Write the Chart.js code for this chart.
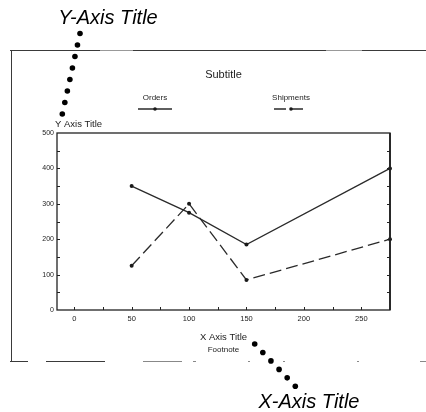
<!DOCTYPE html>
<html>
<head>
<meta charset="utf-8">
<script src="https://cdn.jsdelivr.net/npm/chart.js@4.4.1/dist/chart.umd.min.js"></script>
<style>
  html, body { margin: 0; padding: 0; background: #fff; overflow: hidden; }
  canvas { display: block; }
</style>
</head>
<body>
<canvas id="c" width="426" height="412"></canvas>
<script>
// Series data
const xValues   = [50, 100, 150, 275];
const orders    = [350, 275, 185, 400];
const shipments = [125, 300, 85, 200];

// Axis ticks
const xLabelTicks = [0, 50, 100, 150, 200, 250];
const xMinorTicks = [0, 25, 50, 75, 100, 125, 150, 175, 200, 225, 250];
const yLabelTicks = [0, 100, 200, 300, 400, 500];
const yMinorTicks = [50, 100, 150, 200, 250, 300, 350, 400, 450];

// Texts
const subtitleText = 'Subtitle';
const yAxisTitle = 'Y Axis Title';
const xAxisTitle = 'X Axis Title';
const footnoteText = 'Footnote';
const yCallout = 'Y-Axis Title';
const xCallout = 'X-Axis Title';

const FONT = '"Liberation Sans", Arial, Helvetica, sans-serif';
const INK = '#1c1c1c';

const toPoints = (vals) => xValues.map((x, i) => ({ x, y: vals[i] }));

function dotsBetween(ctx, x0, y0, x1, y1, n, r) {
  for (let i = 0; i < n; i++) {
    const t = i / (n - 1);
    ctx.beginPath();
    ctx.arc(x0 + (x1 - x0) * t, y0 + (y1 - y0) * t, r, 0, Math.PI * 2);
    ctx.fill();
  }
}

function hline(ctx, y, segs) {
  segs.forEach(([a, b]) => { ctx.beginPath(); ctx.moveTo(a, y); ctx.lineTo(b, y); ctx.stroke(); });
}

const decor = {
  id: 'decor',
  beforeDraw(chart) {
    const ctx = chart.ctx;
    ctx.save();
    ctx.fillStyle = '#fff';
    ctx.fillRect(0, 0, chart.width, chart.height);
    // outer page frame
    ctx.strokeStyle = '#3a3a3a';
    ctx.lineWidth = 1;
    hline(ctx, 50.5, [[10, 100], [133, 326], [362, 426]]);
    ctx.strokeStyle = '#999';
    hline(ctx, 50.5, [[100, 133], [326, 362]]);
    ctx.strokeStyle = '#3a3a3a';
    ctx.beginPath(); ctx.moveTo(11.5, 50); ctx.lineTo(11.5, 361); ctx.stroke();
    hline(ctx, 361.5, [[10, 28], [46, 105]]);
    ctx.strokeStyle = '#888';
    hline(ctx, 361.5, [[143, 182], [193, 196], [248, 250], [283, 285], [357, 359], [420, 426]]);
    ctx.restore();
  },
  afterDraw(chart) {
    const { ctx, chartArea: a, scales: { x, y } } = chart;
    ctx.save();
    // plot box
    ctx.strokeStyle = '#222';
    ctx.lineWidth = 1.3;
    ctx.strokeRect(a.left, a.top, a.right - a.left, a.bottom - a.top);
    ctx.lineWidth = 1.8;
    ctx.beginPath(); ctx.moveTo(a.right, a.top); ctx.lineTo(a.right, a.bottom); ctx.stroke();

    // inward tick marks
    ctx.lineWidth = 1;
    xMinorTicks.forEach(v => {
      const px = Math.round(x.getPixelForValue(v)) + 0.5;
      ctx.beginPath(); ctx.moveTo(px, a.bottom); ctx.lineTo(px, a.bottom - 3); ctx.stroke();
    });
    yMinorTicks.forEach(v => {
      const py = Math.round(y.getPixelForValue(v)) + 0.5;
      ctx.beginPath(); ctx.moveTo(a.left, py); ctx.lineTo(a.left + 3, py); ctx.stroke();
      ctx.beginPath(); ctx.moveTo(a.right, py); ctx.lineTo(a.right - 3, py); ctx.stroke();
    });

    const cx = (a.left + a.right) / 2;
    ctx.fillStyle = INK;
    ctx.textBaseline = 'alphabetic';

    // subtitle
    ctx.textAlign = 'center';
    ctx.font = '11px ' + FONT;
    ctx.fillText(subtitleText, cx, 78);

    // legend
    ctx.font = '8px ' + FONT;
    const legendX = [155, 291];
    chart.data.datasets.forEach((ds, i) => {
      const lx = legendX[i];
      ctx.fillStyle = INK;
      ctx.textAlign = 'center';
      ctx.fillText(ds.label, lx, 100);
      ctx.strokeStyle = ds.borderColor;
      ctx.lineWidth = ds.borderWidth;
      ctx.setLineDash(ds.borderDash || []);
      ctx.beginPath(); ctx.moveTo(lx - 17, 109); ctx.lineTo(lx + 17, 109); ctx.stroke();
      ctx.setLineDash([]);
      ctx.fillStyle = ds.pointBackgroundColor;
      ctx.beginPath(); ctx.arc(lx, 109, 1.8, 0, Math.PI * 2); ctx.fill();
    });

    // axis titles and footnote
    ctx.fillStyle = INK;
    ctx.textAlign = 'left';
    ctx.font = '9.5px ' + FONT;
    ctx.fillText(yAxisTitle, 55, 127);
    ctx.textAlign = 'center';
    ctx.fillText(xAxisTitle, cx, 340);
    ctx.font = '8px ' + FONT;
    ctx.fillText(footnoteText, cx, 352);

    // callouts
    ctx.fillStyle = '#000';
    ctx.font = 'italic 20px ' + FONT;
    ctx.textAlign = 'center';
    ctx.fillText(yCallout, 108, 24);
    ctx.fillText(xCallout, 309, 408);
    dotsBetween(ctx, 80, 33.5, 62.3, 114, 8, 2.8);
    dotsBetween(ctx, 254.7, 344, 295.3, 386.3, 6, 2.8);
    ctx.restore();
  }
};

new Chart(document.getElementById('c'), {
  type: 'line',
  data: {
    datasets: [
      {
        label: 'Orders',
        data: toPoints(orders),
        borderColor: '#2a2a2a',
        borderWidth: 1.3,
        pointBackgroundColor: '#1a1a1a',
        pointBorderWidth: 0,
        pointRadius: 2,
        tension: 0,
        clip: 4
      },
      {
        label: 'Shipments',
        data: toPoints(shipments),
        borderColor: '#2a2a2a',
        borderWidth: 1.3,
        borderDash: [12, 5],
        pointBackgroundColor: '#1a1a1a',
        pointBorderWidth: 0,
        pointRadius: 2,
        tension: 0,
        clip: 4
      }
    ]
  },
  options: {
    responsive: false,
    devicePixelRatio: 1,
    animation: false,
    layout: { padding: { left: 37, top: 133, right: 36, bottom: 82 } },
    plugins: { legend: { display: false }, title: { display: false }, tooltip: { enabled: false } },
    scales: {
      x: {
        type: 'linear',
        min: -15,
        max: 275,
        grid: { display: false, drawTicks: false },
        border: { display: false },
        afterBuildTicks: s => { s.ticks = xLabelTicks.map(v => ({ value: v })); },
        afterFit: s => { s.height = 20; },
        ticks: {
          padding: 4,
          maxRotation: 0,
          color: INK,
          font: { family: FONT, size: 7.5 },
          callback: v => String(v)
        }
      },
      y: {
        type: 'linear',
        min: 0,
        max: 500,
        grid: { display: false, drawTicks: false },
        border: { display: false },
        afterBuildTicks: s => { s.ticks = yLabelTicks.map(v => ({ value: v })); },
        afterFit: s => { s.width = 20; },
        ticks: {
          padding: 3,
          color: INK,
          font: { family: FONT, size: 7 },
          callback: v => String(v)
        }
      }
    }
  },
  plugins: [decor]
});
</script>
</body>
</html>
